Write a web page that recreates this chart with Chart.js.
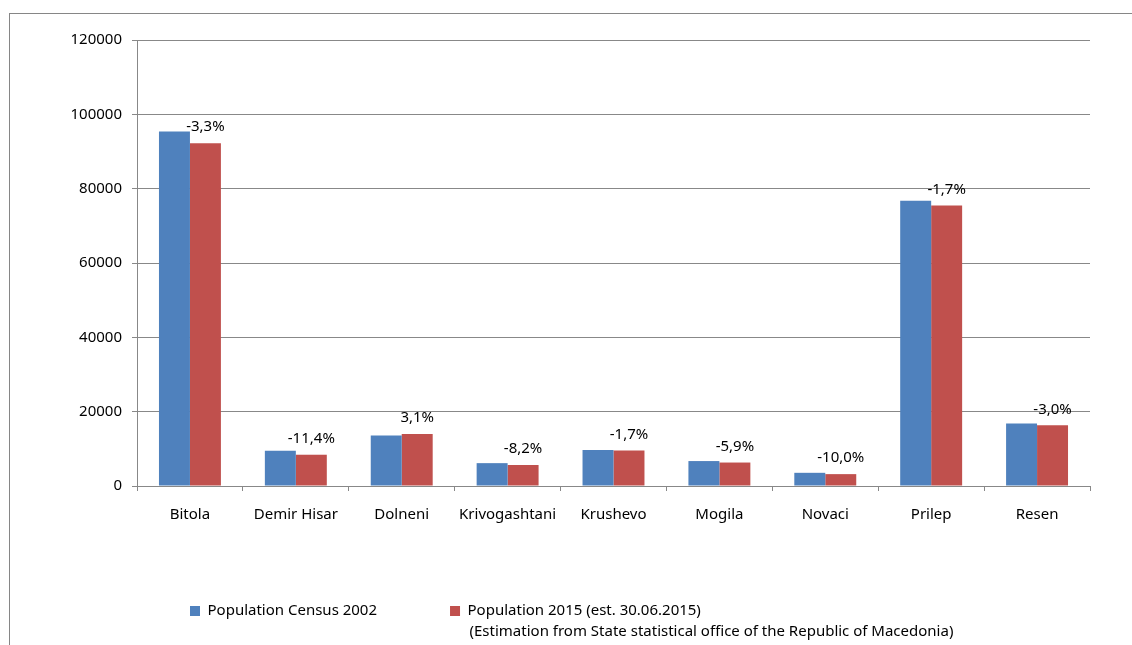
<!DOCTYPE html>
<html>
<head>
<meta charset="utf-8">
<script src="https://cdn.jsdelivr.net/npm/chart.js@4"></script>
<style>
  html, body { margin: 0; padding: 0; background: #fff; overflow: hidden; }
  #wrap { position: relative; width: 1132px; height: 645px; overflow: hidden; }
  #frame { position: absolute; left: 9px; top: 13px; width: 1200px; height: 700px;
           border-left: 1px solid #868686; border-top: 1px solid #868686; }
  #chart { position: absolute; left: 0; top: 0; }
</style>
</head>
<body>
<div id="wrap">
  <div id="frame"></div>
  <canvas id="chart" width="1132" height="660"></canvas>
</div>
<script>
// Population by municipality, Pelagonia region
const municipalities = ['Bitola', 'Demir Hisar', 'Dolneni', 'Krivogashtani', 'Krushevo', 'Mogila', 'Novaci', 'Prilep', 'Resen'];
const census2002 = [95385, 9497, 13568, 6150, 9684, 6710, 3549, 76768, 16825];
const estimate2015 = [92237, 8414, 13990, 5646, 9520, 6314, 3194, 75464, 16320];
const changeLabels = ['-3,3%', '-11,4%', '3,1%', '-8,2%', '-1,7%', '-5,9%', '-10,0%', '-1,7%', '-3,0%'];
const yTicks = [0, 20000, 40000, 60000, 80000, 100000, 120000];

const seriesNames = ['Population Census 2002', 'Population 2015 (est. 30.06.2015)'];
const sourceNote = '(Estimation from State statistical office of the Republic of Macedonia)';

const FONT = 'Noto Sans';
const FONT_SIZE = 15;
const gridColor = '#888888';

// percentage labels above the 2015 bars
const changeLabelPlugin = {
  id: 'changeLabels',
  afterDatasetsDraw(chart) {
    const ctx = chart.ctx;
    const meta = chart.getDatasetMeta(1);
    ctx.save();
    ctx.font = FONT_SIZE + 'px "' + FONT + '"';
    ctx.fillStyle = '#000';
    ctx.textAlign = 'center';
    ctx.textBaseline = 'middle';
    meta.data.forEach((bar, i) => {
      ctx.fillText(changeLabels[i], bar.x, bar.y - 16);
    });
    ctx.restore();
  }
};

// move legend row to the right, and put the source note under the 2015 item
const legendNotePlugin = {
  id: 'legendNote',
  afterLayout(chart) {
    const lg = chart.legend;
    lg.left += 57;
    lg.right += 57;
  },
  afterDraw(chart) {
    const box = chart.legend.legendHitBoxes[1];
    if (!box) return;
    const ctx = chart.ctx;
    ctx.save();
    ctx.font = FONT_SIZE + 'px "' + FONT + '"';
    ctx.fillStyle = '#000';
    ctx.textAlign = 'left';
    ctx.textBaseline = 'middle';
    ctx.fillText(sourceNote, box.left + 10 + FONT_SIZE / 2 + 2, box.top + box.height / 2 + 21);
    ctx.restore();
  }
};

function initChart() {
  const ctx = document.getElementById('chart').getContext('2d');
  new Chart(ctx, {
    type: 'bar',
    data: {
      labels: municipalities,
      datasets: [
        {
          label: seriesNames[0],
          data: census2002,
          backgroundColor: '#4F81BD',
          borderWidth: 0,
          barPercentage: 1,
          categoryPercentage: 0.585
        },
        {
          label: seriesNames[1],
          data: estimate2015,
          backgroundColor: '#C0504D',
          borderWidth: 0,
          barPercentage: 1,
          categoryPercentage: 0.585
        }
      ]
    },
    options: {
      responsive: false,
      animation: false,
      layout: { padding: { left: 60, right: 42, top: 40, bottom: 31.5 } },
      plugins: {
        tooltip: { enabled: false },
        legend: {
          position: 'bottom',
          align: 'start',
          labels: {
            boxWidth: 10,
            boxHeight: 10,
            padding: 73,
            color: '#000',
            font: { family: FONT, size: FONT_SIZE }
          }
        }
      },
      scales: {
        x: {
          grid: { display: true, drawOnChartArea: false, drawTicks: true, tickLength: 5, color: gridColor },
          border: { color: gridColor },
          ticks: { color: '#000', padding: 15, font: { family: FONT, size: FONT_SIZE } },
          afterFit(scale) { scale.height = 44.5; }
        },
        y: {
          min: 0,
          max: 120000,
          grid: { color: gridColor, tickLength: 5 },
          border: { color: gridColor },
          afterBuildTicks(scale) { scale.ticks = yTicks.map(v => ({ value: v })); },
          ticks: {
            color: '#000',
            padding: 10,
            font: { family: FONT, size: FONT_SIZE },
            callback: (value) => String(value)
          },
          afterFit(scale) { scale.width = 77; }
        }
      }
    },
    plugins: [changeLabelPlugin, legendNotePlugin]
  });
}

window.addEventListener('load', initChart);
</script>
</body>
</html>
